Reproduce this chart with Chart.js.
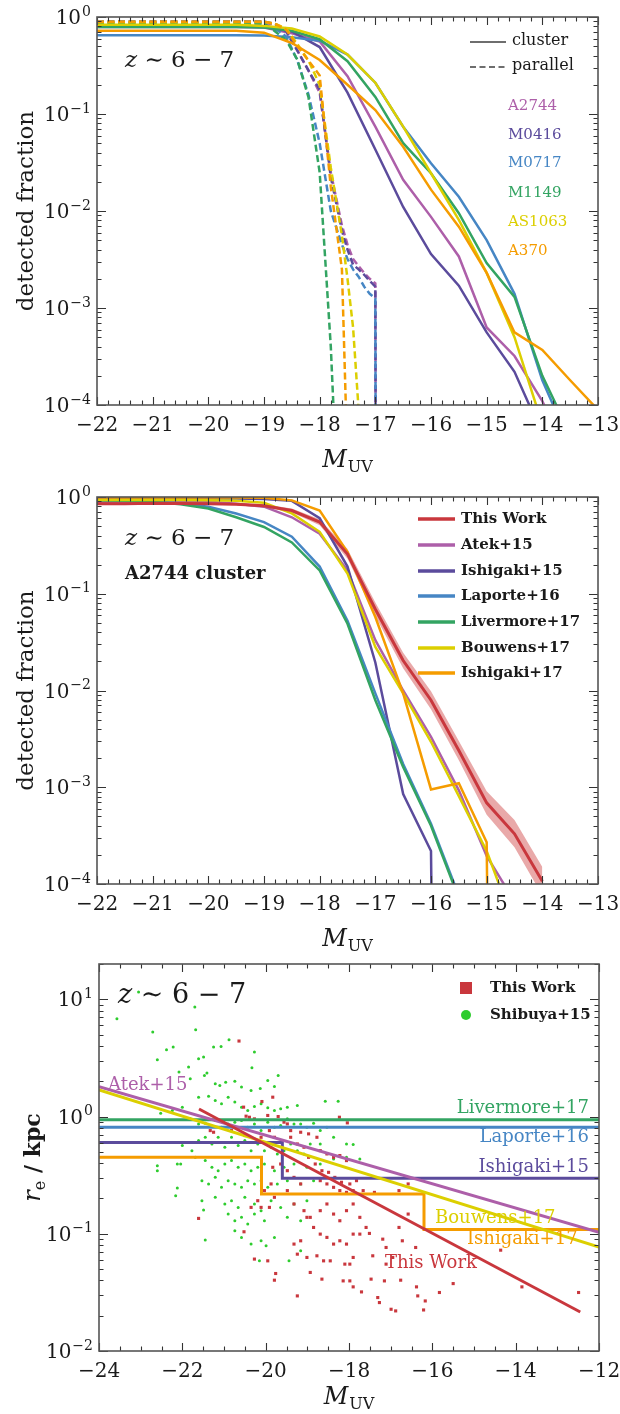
<!DOCTYPE html>
<html>
<head>
<meta charset="utf-8">
<script src="https://cdn.jsdelivr.net/npm/chart.js@4.4.1/dist/chart.umd.min.js"></script>
<style>
  html, body { margin: 0; padding: 0; background: #fff; }
  body { width: 620px; height: 1414px; position: relative; overflow: hidden; }
  canvas { position: absolute; left: 0; }
</style>
</head>
<body>
<canvas id="panelTop" width="620" height="480" style="top:0px"></canvas>
<canvas id="panelMid" width="620" height="480" style="top:480px"></canvas>
<canvas id="panelBot" width="620" height="454" style="top:960px"></canvas>
<script>
// ---------- panel 1: completeness per cluster, cluster vs parallel fields ----------
const magBins1 = [-22, -21.5, -21, -20.5, -20, -19.5, -19, -18.5, -18, -17.5, -17, -16.5, -16, -15.5, -15, -14.5, -14, -13.5, -13];
const a2744Cluster  = [0.79, 0.79, 0.79, 0.79, 0.79, 0.79, 0.78, 0.68, 0.56, 0.245, 0.074, 0.021, 0.0087, 0.0034, 6.3e-4, 3.2e-4, 1.1e-4, 2.5e-5, null];
const m0416Cluster  = [0.81, 0.81, 0.81, 0.81, 0.81, 0.81, 0.79, 0.71, 0.49, 0.166, 0.043, 0.011, 0.0036, 0.0017, 5.6e-4, 2.2e-4, 5e-5, null, null];
const m0717Cluster  = [0.65, 0.65, 0.65, 0.65, 0.65, 0.65, 0.645, 0.62, 0.57, 0.41, 0.21, 0.074, 0.031, 0.014, 0.005, 0.0014, 1.8e-4, 4e-5, null];
const m1149Cluster  = [0.79, 0.79, 0.79, 0.79, 0.79, 0.79, 0.78, 0.72, 0.59, 0.35, 0.15, 0.05, 0.0245, 0.0095, 0.0029, 0.0013, 2.0e-4, 5e-5, null];
const as1063Cluster = [0.83, 0.83, 0.83, 0.83, 0.83, 0.83, 0.81, 0.76, 0.63, 0.41, 0.21, 0.074, 0.0245, 0.0081, 0.0023, 5e-4, 6.3e-5, null, null];
const a370Cluster   = [0.72, 0.72, 0.72, 0.72, 0.72, 0.72, 0.69, 0.54, 0.36, 0.20, 0.11, 0.046, 0.0166, 0.0069, 0.0023, 5.6e-4, 3.7e-4, 1.8e-4, 8.9e-5];

const magBinsPar = [-22, -21, -20, -19, -18.8, -18.6, -18.4, -18.2, -18.0, -17.8, -17.6, -17.5, -17.4, -17.3, -17.2, -17.1, -17.0, -16.9];
const a2744Parallel  = [0.87, 0.87, 0.87, 0.87, 0.83, 0.71, 0.45, 0.28, 0.166, 0.025, 0.0071, 0.0045, 0.0032, 0.0027, 0.0023, 0.002, 0.0018, 1e-30];
const m0416Parallel  = [0.90, 0.90, 0.90, 0.90, 0.85, 0.71, 0.45, 0.28, 0.178, 0.0224, 0.0063, 0.004, 0.0028, 0.0025, 0.0022, 0.0019, 0.00166, 1e-30];
const m0717Parallel  = [0.83, 0.83, 0.83, 0.83, 0.76, 0.63, 0.355, 0.158, 0.05, 0.01, 0.0045, 0.0032, 0.0025, 0.0021, 0.00166, 0.0014, 0.00126, 1e-30];
const m1149Parallel  = [0.86, 0.86, 0.86, 0.86, 0.71, 0.575, 0.363, 0.148, 0.025, 4e-4, 1e-6, null, null, null, null, null, null, null];
const as1063Parallel = [0.89, 0.89, 0.89, 0.89, 0.85, 0.76, 0.525, 0.355, 0.2, 0.028, 0.0056, 0.002, 6.3e-4, 8.9e-5, null, null, null, null];
const a370Parallel   = [0.895, 0.895, 0.895, 0.895, 0.85, 0.74, 0.5, 0.355, 0.25, 0.0178, 0.0025, 2.5e-5, null, null, null, null, null, null];

const clusterNames  = ['A2744', 'M0416', 'M0717', 'M1149', 'AS1063', 'A370'];
const clusterColors = ['#ad5fa9', '#5b4b9c', '#4686c4', '#33a462', '#dccf00', '#f59c00'];

// ---------- panel 2: A2744 cluster, comparison with the literature ----------
const magBins2 = [-22, -21.5, -21, -20.5, -20, -19.5, -19, -18.5, -18, -17.5, -17, -16.5, -16, -15.5, -15, -14.5, -14];
const thisWorkFrac = [0.851, 0.851, 0.861, 0.855, 0.851, 0.841, 0.813, 0.724, 0.550, 0.257, 0.0692, 0.0204, 0.00794, 0.0024, 6.9e-4, 3.3e-4, 1.07e-4];
const thisWorkHi   = [0.87, 0.87, 0.88, 0.875, 0.87, 0.86, 0.84, 0.76, 0.59, 0.29, 0.081, 0.0245, 0.0098, 0.0030, 9.1e-4, 4.6e-4, 1.5e-4];
const thisWorkLo   = [0.83, 0.83, 0.84, 0.835, 0.83, 0.82, 0.785, 0.69, 0.51, 0.23, 0.059, 0.0170, 0.0064, 0.0019, 5.2e-4, 2.4e-4, 7.6e-5];
const atek15Frac      = [0.891, 0.891, 0.891, 0.891, 0.891, 0.851, 0.794, 0.617, 0.417, 0.174, 0.0331, 0.01, 0.00331, 9.3e-4, 1.95e-4, 6.6e-5, null];
const ishigaki15Frac  = [0.966, 0.966, 0.966, 0.966, 0.966, 0.966, 0.955, 0.912, 0.603, 0.191, 0.0195, 8.5e-4, 2.19e-4, 1e-30, null, null, null];
const laporte16Frac   = [0.933, 0.923, 0.902, 0.861, 0.794, 0.676, 0.550, 0.389, 0.191, 0.0525, 0.00933, 0.00174, 4.2e-4, 7.6e-5, null, null, null];
const livermore17Frac = [0.923, 0.912, 0.891, 0.841, 0.759, 0.617, 0.490, 0.339, 0.174, 0.049, 0.00794, 0.00162, 4.0e-4, 7.1e-5, null, null, null];
const bouwens17Frac   = [0.933, 0.933, 0.933, 0.933, 0.923, 0.912, 0.871, 0.676, 0.437, 0.162, 0.0282, 0.00933, 0.00295, 8.1e-4, 2.19e-4, 3.7e-5, null];
const ishigaki17Frac  = [0.989, 0.989, 0.989, 0.989, 0.989, 0.989, 0.982, 0.923, 0.724, 0.269, 0.0575, 0.00933, 9.5e-4, 1.1e-3, 2.7e-4, 1e-30, null];

const litNames  = ['This Work', 'Atek+15', 'Ishigaki+15', 'Laporte+16', 'Livermore+17', 'Bouwens+17', 'Ishigaki+17'];
const litColors = ['#c9373d', '#ad5fa9', '#5b4b9c', '#4686c4', '#33a462', '#dccf00', '#f59c00'];

// ---------- panel 3: size - luminosity relation ----------
const fullRange = [-24, -12];
const livermore17Re = [0.94, 0.94];
const laporte16Re   = [0.81, 0.81];
const ishigaki15Mag = [-24, -19.6, -19.6, -12];
const ishigaki15Re  = [0.60, 0.60, 0.297, 0.297];
const ishigaki17Mag = [-24, -20.1, -20.1, -16.2, -16.2, -12];
const ishigaki17Re  = [0.45, 0.45, 0.218, 0.218, 0.109, 0.109];
const atek15Re      = [1.80, 0.103];
const bouwens17Re   = [1.69, 0.077];
const thisWorkFitMag = [-21.6, -12.45];
const thisWorkFitRe  = [1.16, 0.0215];

// [M_UV, log10 r_e/kpc]
const shibuyaPts = [
  [-23.57,0.835],[-23.05,1.063],[-21.70,0.934],[-21.68,0.741],[-22.71,0.721],[-22.60,0.484],[-22.38,0.570],[-22.22,0.593],[-22.08,0.379],[-21.85,0.422],
  [-21.61,0.493],[-21.49,0.507],[-21.25,0.593],[-21.07,0.598],[-20.88,0.655],[-20.27,0.550],[-20.33,0.416],[-19.70,0.350],[-21.81,0.322],[-21.47,0.350],
  [-21.41,0.371],[-21.21,0.279],[-21.10,0.265],[-20.96,0.293],[-20.74,0.301],[-20.58,0.251],[-20.35,0.222],[-20.13,0.240],[-19.95,0.308],[-19.79,0.256],
  [-22.52,0.028],[-22.24,0.051],[-22.00,0.080],[-21.61,0.165],[-21.37,0.172],[-21.21,0.137],[-21.06,0.108],[-20.90,0.165],[-20.74,0.123],[-20.58,0.080],
  [-20.43,0.051],[-20.27,0.086],[-20.11,0.108],[-19.95,0.074],[-19.79,0.051],[-19.64,0.066],[-19.48,0.080],[-19.24,0.094],[-18.57,0.131],[-18.26,0.131],
  [-21.81,-0.020],[-21.61,-0.063],[-21.45,-0.058],[-21.21,-0.034],[-21.06,-0.091],[-20.90,-0.063],[-20.74,-0.048],[-20.58,-0.034],[-20.43,-0.091],[-20.27,-0.063],
  [-20.11,-0.120],[-19.95,-0.048],[-19.79,-0.091],[-19.64,-0.077],[-19.48,-0.020],[-19.32,-0.063],[-19.16,-0.063],[-19.01,-0.091],[-18.85,-0.057],[-18.69,-0.120],
  [-18.53,-0.091],[-22.00,-0.248],[-21.77,-0.291],[-21.61,-0.205],[-21.45,-0.177],[-21.29,-0.234],[-21.14,-0.177],[-20.98,-0.262],[-20.82,-0.177],[-20.66,-0.248],
  [-20.50,-0.205],[-20.35,-0.291],[-20.19,-0.234],[-20.03,-0.291],[-19.87,-0.262],[-19.72,-0.319],[-19.56,-0.291],[-19.40,-0.234],[-19.24,-0.291],[-19.08,-0.319],
  [-18.93,-0.234],[-18.69,-0.234],[-18.37,-0.177],[-18.06,-0.234],[-17.90,-0.239],[-22.60,-0.419],[-22.60,-0.462],[-22.12,-0.405],[-22.04,-0.405],[-21.69,-0.348],
  [-21.45,-0.376],[-21.29,-0.433],[-21.14,-0.462],[-20.98,-0.405],[-20.82,-0.376],[-20.66,-0.433],[-20.50,-0.405],[-20.35,-0.462],[-20.19,-0.433],[-20.03,-0.405],
  [-19.79,-0.462],[-19.56,-0.433],[-19.32,-0.405],[-19.01,-0.433],[-18.69,-0.405],[-18.37,-0.362],[-18.06,-0.348],[-17.74,-0.362],[-22.12,-0.610],[-22.16,-0.675],
  [-21.53,-0.547],[-21.37,-0.575],[-21.21,-0.519],[-21.06,-0.604],[-20.90,-0.547],[-20.74,-0.575],[-20.58,-0.604],[-20.43,-0.547],[-20.27,-0.575],[-20.11,-0.547],
  [-19.95,-0.604],[-19.72,-0.575],[-19.48,-0.547],[-19.16,-0.575],[-18.85,-0.547],[-21.53,-0.718],[-21.21,-0.689],[-20.98,-0.746],[-20.82,-0.718],[-20.66,-0.775],
  [-20.50,-0.689],[-20.27,-0.746],[-20.11,-0.803],[-19.87,-0.718],[-19.64,-0.775],[-19.32,-0.746],[-19.01,-0.718],[-21.49,-0.798],[-21.45,-1.054],[-20.90,-0.832],
  [-20.74,-0.889],[-20.58,-0.860],[-20.43,-0.917],[-20.27,-0.832],[-20.03,-0.889],[-19.48,-0.860],[-19.16,-0.889],[-20.58,-1.031],[-20.35,-1.088],[-20.11,-1.060],
  [-19.99,-1.103],[-19.79,-1.031],[-19.44,-1.231],[-19.16,-1.145],[-20.15,-1.231],[-20.74,-0.974]
];

// [M_UV, log10 r_e/kpc]
const thisWorkPts = [
  [-20.64,0.644],[-20.53,0.080],[-20.09,0.128],[-19.83,0.165],[-20.47,0.003],[-20.39,-0.006],[-20.27,-0.020],[-19.95,0.009],[-19.70,0.000],[-18.23,-0.006],
  [-18.04,-0.054],[-19.56,-0.048],[-19.48,-0.063],[-21.33,-0.120],[-21.25,-0.134],[-20.82,-0.120],[-20.50,-0.162],[-20.11,-0.177],[-19.91,-0.120],[-19.79,-0.177],
  [-19.40,-0.120],[-19.16,-0.134],[-18.97,-0.148],[-18.77,-0.177],[-19.40,-0.177],[-19.24,-0.234],[-19.08,-0.262],[-18.69,-0.291],[-18.53,-0.319],[-18.37,-0.348],
  [-18.22,-0.333],[-18.06,-0.376],[-18.97,-0.348],[-18.81,-0.405],[-18.65,-0.462],[-18.49,-0.476],[-18.34,-0.519],[-18.18,-0.561],[-17.98,-0.575],[-17.82,-0.547],
  [-18.69,-0.547],[-18.53,-0.575],[-18.37,-0.604],[-18.22,-0.632],[-18.06,-0.647],[-17.90,-0.632],[-17.66,-0.632],[-19.64,-0.405],[-19.48,-0.462],[-19.32,-0.519],
  [-19.16,-0.575],[-19.83,-0.433],[-19.87,-0.575],[-20.03,-0.632],[-20.19,-0.718],[-20.11,-0.775],[-20.35,-0.775],[-19.91,-0.775],[-19.79,-0.689],[-19.48,-0.632],
  [-19.32,-0.746],[-19.08,-0.803],[-18.93,-0.860],[-18.69,-0.803],[-18.53,-0.746],[-18.37,-0.832],[-18.22,-0.889],[-18.06,-0.803],[-17.90,-0.746],[-17.74,-0.860],
  [-17.59,-0.946],[-17.39,-0.647],[-16.80,-0.632],[-16.58,-0.575],[-16.58,-0.832],[-19.01,-0.860],[-18.85,-0.946],[-18.69,-1.003],[-18.53,-1.031],[-18.37,-1.088],
  [-18.22,-1.060],[-18.06,-1.088],[-17.90,-1.003],[-17.74,-1.003],[-17.51,-0.997],[-17.19,-1.046],[-17.11,-1.117],[-16.80,-0.946],[-16.72,-1.060],[-16.40,-1.117],
  [-19.32,-1.088],[-19.24,-1.174],[-19.16,-1.060],[-19.01,-1.202],[-18.77,-1.188],[-18.61,-1.231],[-18.45,-1.231],[-18.10,-1.259],[-17.98,-1.259],[-17.90,-1.202],
  [-17.43,-1.188],[-17.11,-1.259],[-16.95,-1.202],[-20.27,-1.216],[-19.95,-1.231],[-19.76,-1.339],[-19.79,-1.396],[-19.24,-1.530],[-18.93,-1.330],[-18.65,-1.387],
  [-17.98,-1.402],[-17.90,-1.453],[-17.70,-1.496],[-17.47,-1.387],[-17.31,-1.544],[-17.27,-1.587],[-17.15,-1.402],[-16.99,-1.644],[-16.88,-1.658],[-16.76,-1.396],
  [-16.38,-1.453],[-16.35,-1.530],[-16.21,-1.650],[-16.17,-1.573],[-15.83,-1.501],[-15.50,-1.425],[-14.36,-1.140],[-13.85,-1.453],[-12.49,-1.501],[-21.61,-0.869],
  [-20.52,-0.983],[-18.14,-1.402]
];

const sizeColors = {
  livermore: '#33a462', laporte: '#4686c4', ishigaki15: '#5b4b9c', ishigaki17: '#f59c00',
  atek: '#ad5fa9', bouwens: '#dccf00', thisWork: '#c9373d', shibuya: '#2ecc2e'
};

// ---------- helpers ----------
const SERIF = '"DejaVu Serif", serif';

function series(xs, ys, color, extra) {
  return Object.assign({
    data: xs.map((x, i) => ({ x: x, y: ys[i] })),
    borderColor: color,
    backgroundColor: color,
    borderWidth: 2.5,
    pointRadius: 0,
    tension: 0,
    fill: false
  }, extra || {});
}

function drawMuv(ctx, cx, baseline) {
  ctx.save();
  ctx.fillStyle = '#1a1a1a';
  ctx.textBaseline = 'alphabetic';
  ctx.font = 'italic 24px ' + SERIF;
  const wM = ctx.measureText('M').width;
  ctx.font = '16px ' + SERIF;
  const wUV = ctx.measureText('UV').width;
  const x0 = cx - (wM + wUV + 1) / 2;
  ctx.textAlign = 'left';
  ctx.font = 'italic 24px ' + SERIF;
  ctx.fillText('M', x0, baseline);
  ctx.font = '16px ' + SERIF;
  ctx.fillText('UV', x0 + wM + 1, baseline + 5);
  ctx.restore();
}

function drawRedshift(ctx, x, baseline, size) {
  ctx.save();
  ctx.fillStyle = '#1a1a1a';
  ctx.textAlign = 'left';
  ctx.textBaseline = 'alphabetic';
  ctx.font = 'italic ' + size + 'px ' + SERIF;
  ctx.fillText('z', x, baseline);
  const w = ctx.measureText('z').width;
  ctx.font = size + 'px ' + SERIF;
  ctx.fillText(' \u223C 6 \u2212 7', x + w, baseline);
  ctx.restore();
}

// axis frame, inward ticks and labels drawn in matplotlib style
const axesDecor = {
  id: 'axesDecor',
  afterDatasetsDraw(chart, args, opts) {
    const ctx = chart.ctx;
    const a = chart.chartArea;
    const xs = chart.scales.x, ys = chart.scales.y;
    ctx.save();

    ctx.strokeStyle = '#333';
    ctx.lineWidth = 1.1;
    ctx.beginPath();
    const nMinor = Math.round((xs.max - xs.min) / opts.xMinor);
    for (let i = 0; i <= nMinor; i++) {
      const v = xs.min + i * opts.xMinor;
      const r = v / opts.xMajor;
      const len = Math.abs(r - Math.round(r)) < 1e-6 ? 8 : 4.5;
      const px = Math.round(xs.getPixelForValue(v)) + 0.5;
      ctx.moveTo(px, a.bottom); ctx.lineTo(px, a.bottom - len);
      ctx.moveTo(px, a.top); ctx.lineTo(px, a.top + len);
    }
    const dLo = Math.floor(Math.log10(ys.min)), dHi = Math.ceil(Math.log10(ys.max));
    for (let d = dLo; d <= dHi; d++) {
      for (let k = 1; k <= 9; k++) {
        const v = k * Math.pow(10, d);
        if (v < ys.min * 0.999 || v > ys.max * 1.001) continue;
        const len = k === 1 ? 9 : 4.5;
        const py = Math.round(ys.getPixelForValue(v)) + 0.5;
        ctx.moveTo(a.left, py); ctx.lineTo(a.left + len, py);
        ctx.moveTo(a.right, py); ctx.lineTo(a.right - len, py);
      }
    }
    ctx.stroke();

    ctx.strokeStyle = '#555';
    ctx.lineWidth = 1.6;
    ctx.strokeRect(a.left, a.top, a.right - a.left, a.bottom - a.top);

    // x tick labels
    ctx.fillStyle = '#1a1a1a';
    ctx.font = '20px ' + SERIF;
    ctx.textAlign = 'center';
    ctx.textBaseline = 'alphabetic';
    for (let v = xs.min; v <= xs.max + 1e-9; v += opts.xMajor) {
      const txt = (v < 0 ? '\u2212' : '') + Math.abs(v);
      ctx.fillText(txt, xs.getPixelForValue(v), a.bottom + 26);
    }

    // y decade labels 10^n
    ctx.textAlign = 'left';
    for (let d = dLo; d <= dHi; d++) {
      const v = Math.pow(10, d);
      if (v < ys.min * 0.999 || v > ys.max * 1.001) continue;
      const py = ys.getPixelForValue(v);
      const ex = (d < 0 ? '\u2212' : '') + Math.abs(d);
      ctx.font = '20px ' + SERIF;
      const w10 = ctx.measureText('10').width;
      ctx.font = '14px ' + SERIF;
      const wEx = ctx.measureText(ex).width;
      const x0 = a.left - 6 - w10 - wEx - 1;
      ctx.font = '20px ' + SERIF;
      ctx.fillText('10', x0, py + 7);
      ctx.font = '14px ' + SERIF;
      ctx.fillText(ex, x0 + w10 + 1, py - 1.5);
    }

    // axis titles
    drawMuv(ctx, (a.left + a.right) / 2, a.bottom + opts.titleGap);
    ctx.save();
    ctx.translate(opts.yTitleX, (a.top + a.bottom) / 2);
    ctx.rotate(-Math.PI / 2);
    ctx.fillStyle = '#1a1a1a';
    ctx.textBaseline = 'alphabetic';
    if (opts.yTitle === 'fraction') {
      ctx.textAlign = 'center';
      ctx.font = '23px ' + SERIF;
      ctx.fillText('detected fraction', 0, 0);
    } else {
      ctx.textAlign = 'left';
      ctx.font = 'italic 24px ' + SERIF;
      const wr = ctx.measureText('r').width;
      ctx.font = '16px ' + SERIF;
      const we = ctx.measureText('e').width;
      ctx.font = 'bold 22px ' + SERIF;
      const wk = ctx.measureText(' / kpc').width;
      const x0 = -(wr + we + wk) / 2;
      ctx.font = 'italic 24px ' + SERIF;
      ctx.fillText('r', x0, 0);
      ctx.font = '16px ' + SERIF;
      ctx.fillText('e', x0 + wr, 5);
      ctx.font = 'bold 22px ' + SERIF;
      ctx.fillText(' / kpc', x0 + wr + we, 0);
    }
    ctx.restore();

    if (opts.extra) opts.extra(ctx, a);
    ctx.restore();
  }
};
Chart.register(axesDecor);

function baseOptions(cfg) {
  return {
    responsive: false,
    animation: false,
    devicePixelRatio: 1,
    layout: { padding: { top: cfg.padTop, right: cfg.padRight, left: 0, bottom: 0 } },
    plugins: {
      legend: { display: false },
      tooltip: { enabled: false },
      axesDecor: cfg.decor
    },
    scales: {
      x: {
        type: 'linear', min: cfg.xMin, max: cfg.xMax,
        ticks: { display: false }, grid: { display: false }, border: { display: false },
        afterFit: s => { s.height = cfg.xHeight; }
      },
      y: {
        type: 'logarithmic', min: cfg.yMin, max: cfg.yMax,
        ticks: { display: false }, grid: { display: false }, border: { display: false },
        afterFit: s => { s.width = cfg.yWidth; }
      }
    }
  };
}

// ---------- panel 1 ----------
const solidSets = [a2744Cluster, m0416Cluster, m0717Cluster, m1149Cluster, as1063Cluster, a370Cluster];
const dashedSets = [a2744Parallel, m0416Parallel, m0717Parallel, m1149Parallel, as1063Parallel, a370Parallel];
const topDatasets = [];
for (let i = clusterNames.length - 1; i >= 0; i--) {
  topDatasets.push(series(magBins1, solidSets[i], clusterColors[i], { label: clusterNames[i] + ' cluster' }));
  topDatasets.push(series(magBinsPar, dashedSets[i], clusterColors[i], { label: clusterNames[i] + ' parallel', borderDash: [7, 3.5] }));
}

new Chart(document.getElementById('panelTop'), {
  type: 'line',
  data: { datasets: topDatasets },
  options: baseOptions({
    padTop: 17, padRight: 22, xHeight: 75, yWidth: 97,
    xMin: -22, xMax: -13, yMin: 1e-4, yMax: 1,
    decor: {
      xMajor: 1, xMinor: 0.2, titleGap: 62, yTitle: 'fraction', yTitleX: 33,
      extra: (ctx) => {
        drawRedshift(ctx, 125, 67, 23);
        ctx.strokeStyle = '#6e6e6e';
        ctx.lineWidth = 2;
        ctx.beginPath(); ctx.moveTo(470, 42); ctx.lineTo(506, 42); ctx.stroke();
        ctx.setLineDash([6, 3.5]);
        ctx.beginPath(); ctx.moveTo(470, 67); ctx.lineTo(506, 67); ctx.stroke();
        ctx.setLineDash([]);
        ctx.fillStyle = '#1a1a1a';
        ctx.font = '16px ' + SERIF;
        ctx.textAlign = 'left';
        ctx.textBaseline = 'middle';
        ctx.fillText('cluster', 512, 41);
        ctx.fillText('parallel', 512, 66);
        ctx.font = '15px ' + SERIF;
        const ys = [106, 135, 163, 193, 222, 251];
        clusterNames.forEach((n, i) => {
          ctx.fillStyle = clusterColors[i];
          ctx.fillText(n, 508, ys[i]);
        });
      }
    }
  })
});

// ---------- panel 2 ----------
const litSets = [thisWorkFrac, atek15Frac, ishigaki15Frac, laporte16Frac, livermore17Frac, bouwens17Frac, ishigaki17Frac];
const midDatasets = [
  series(magBins2, thisWorkFrac, litColors[0], { label: 'This Work', borderWidth: 3, order: 0 })
];
for (let i = litSets.length - 1; i >= 1; i--) {
  midDatasets.push(series(magBins2, litSets[i], litColors[i], { label: litNames[i], order: 1 }));
}
midDatasets.push(series(magBins2, thisWorkHi, 'rgba(0,0,0,0)', {
  label: 'This Work upper', borderWidth: 0, order: 5, fill: '+1', backgroundColor: 'rgba(218, 112, 112, 0.6)'
}));
midDatasets.push(series(magBins2, thisWorkLo, 'rgba(0,0,0,0)', { label: 'This Work lower', borderWidth: 0, order: 5 }));

new Chart(document.getElementById('panelMid'), {
  type: 'line',
  data: { datasets: midDatasets },
  options: baseOptions({
    padTop: 17, padRight: 22, xHeight: 76, yWidth: 97,
    xMin: -22, xMax: -13, yMin: 1e-4, yMax: 1,
    decor: {
      xMajor: 1, xMinor: 0.2, titleGap: 62, yTitle: 'fraction', yTitleX: 33,
      extra: (ctx) => {
        drawRedshift(ctx, 125, 65, 23);
        ctx.fillStyle = '#1a1a1a';
        ctx.font = 'bold 18px ' + SERIF;
        ctx.textAlign = 'left';
        ctx.textBaseline = 'alphabetic';
        ctx.fillText('A2744 cluster', 125, 99);
        const ys = [39, 65, 91, 116, 142, 168, 193];
        ctx.font = 'bold 15px ' + SERIF;
        ctx.textBaseline = 'middle';
        litNames.forEach((n, i) => {
          ctx.strokeStyle = litColors[i];
          ctx.lineWidth = 3.5;
          ctx.beginPath(); ctx.moveTo(418, ys[i]); ctx.lineTo(455, ys[i]); ctx.stroke();
          ctx.fillStyle = '#1a1a1a';
          ctx.fillText(n, 461, ys[i]);
        });
      }
    }
  })
});

// ---------- panel 3 ----------
const toPoints = arr => arr.map(p => ({ x: p[0], y: Math.pow(10, p[1]) }));
const botDatasets = [
  series(thisWorkFitMag, thisWorkFitRe, sizeColors.thisWork, { label: 'This Work fit', borderWidth: 3, order: 0 }),
  series(fullRange, bouwens17Re, sizeColors.bouwens, { label: 'Bouwens+17', borderWidth: 3, order: 1 }),
  series(fullRange, atek15Re, sizeColors.atek, { label: 'Atek+15', borderWidth: 3, order: 2 }),
  series(ishigaki17Mag, ishigaki17Re, sizeColors.ishigaki17, { label: 'Ishigaki+17', borderWidth: 3, order: 3 }),
  series(ishigaki15Mag, ishigaki15Re, sizeColors.ishigaki15, { label: 'Ishigaki+15', borderWidth: 3, order: 4 }),
  series(fullRange, laporte16Re, sizeColors.laporte, { label: 'Laporte+16', borderWidth: 3, order: 5 }),
  series(fullRange, livermore17Re, sizeColors.livermore, { label: 'Livermore+17', borderWidth: 3, order: 6 }),
  {
    label: 'This Work', data: toPoints(thisWorkPts), showLine: false, order: 8,
    pointStyle: 'rect', pointRadius: 2.2, pointBorderWidth: 0,
    backgroundColor: sizeColors.thisWork, borderColor: sizeColors.thisWork
  },
  {
    label: 'Shibuya+15', data: toPoints(shibuyaPts), showLine: false, order: 9,
    pointStyle: 'circle', pointRadius: 1.5, pointBorderWidth: 0,
    backgroundColor: sizeColors.shibuya, borderColor: sizeColors.shibuya
  }
];

new Chart(document.getElementById('panelBot'), {
  type: 'line',
  data: { datasets: botDatasets },
  options: baseOptions({
    padTop: 3, padRight: 21, xHeight: 63, yWidth: 99,
    xMin: -24, xMax: -12, yMin: 0.01, yMax: 20,
    decor: {
      xMajor: 2, xMinor: 0.5, titleGap: 53, yTitle: 're', yTitleX: 40,
      extra: (ctx) => {
        drawRedshift(ctx, 118, 43, 27);
        // legend
        ctx.fillStyle = sizeColors.thisWork;
        ctx.fillRect(460, 22, 12, 12);
        ctx.fillStyle = sizeColors.shibuya;
        ctx.beginPath(); ctx.arc(466, 55, 5, 0, Math.PI * 2); ctx.fill();
        ctx.fillStyle = '#1a1a1a';
        ctx.font = 'bold 15px ' + SERIF;
        ctx.textAlign = 'left';
        ctx.textBaseline = 'middle';
        ctx.fillText('This Work', 490, 28);
        ctx.fillText('Shibuya+15', 490, 55);
        // line labels
        ctx.font = '18px ' + SERIF;
        ctx.fillStyle = sizeColors.atek; ctx.fillText('Atek+15', 108, 125);
        ctx.fillStyle = sizeColors.bouwens; ctx.fillText('Bouwens+17', 435, 258);
        ctx.fillStyle = sizeColors.ishigaki17; ctx.fillText('Ishigaki+17', 467, 279);
        ctx.fillStyle = sizeColors.thisWork; ctx.fillText('This Work', 385, 303);
        ctx.textAlign = 'right';
        ctx.fillStyle = sizeColors.livermore; ctx.fillText('Livermore+17', 589, 148);
        ctx.fillStyle = sizeColors.laporte; ctx.fillText('Laporte+16', 589, 177);
        ctx.fillStyle = sizeColors.ishigaki15; ctx.fillText('Ishigaki+15', 589, 207);
      }
    }
  })
});
</script>
</body>
</html>
